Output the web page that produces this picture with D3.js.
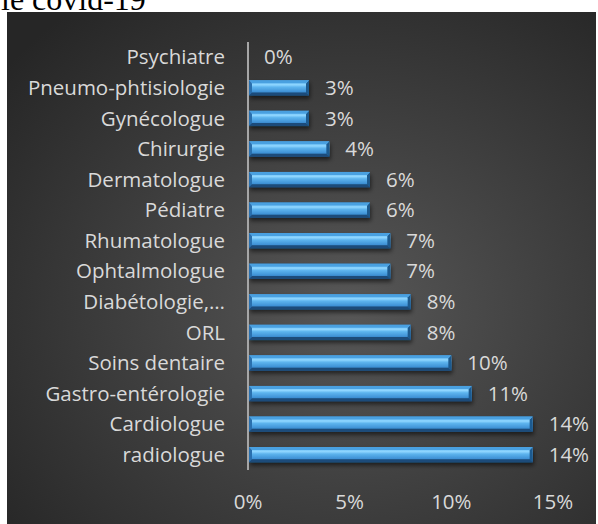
<!DOCTYPE html>
<html>
<head>
<meta charset="utf-8">
<script src="https://cdn.jsdelivr.net/npm/d3@7"></script>
<style>
  html, body { margin: 0; padding: 0; background: #fff; }
  svg { display: block; }
  .cat, .val, .tick-label { font-family: "Open Sans", Lato, sans-serif; font-size: 20.5px; fill: #d9d9d9; }
</style>
</head>
<body>
<div id="chart"></div>
<script>
// Data (top to bottom as shown)
const categories = [
    'Psychiatre', 'Pneumo-phtisiologie', 'Gynécologue', 'Chirurgie', 'Dermatologue',
    'Pédiatre', 'Rhumatologue', 'Ophtalmologue', 'Diabétologie,…', 'ORL',
    'Soins dentaire', 'Gastro-entérologie', 'Cardiologue', 'radiologue'
];
const values = [0, 3, 3, 4, 6, 6, 7, 7, 8, 8, 10, 11, 14, 14];
const tickValues = [0, 5, 10, 15];

const WIDTH = 598;
const HEIGHT = 524;

const svg = d3.select('#chart')
    .append('svg')
    .attr('width', WIDTH)
    .attr('height', HEIGHT);

const defs = svg.append('defs');

// Dark radial background
const bg = defs.append('radialGradient')
    .attr('id', 'bg')
    .attr('cx', '58%').attr('cy', '58%').attr('r', '75%');
bg.append('stop').attr('offset', '0%').attr('stop-color', '#575757');
bg.append('stop').attr('offset', '100%').attr('stop-color', '#262626');

// Bar bevel gradient
const barGrad = defs.append('linearGradient')
    .attr('id', 'bar')
    .attr('x1', 0).attr('y1', 0).attr('x2', 0).attr('y2', 1);
[['0%', '#3c8fd4'], ['12%', '#6fc2f7'], ['30%', '#8fd6ff'], ['45%', '#5db4ee'],
 ['75%', '#3f92d6'], ['88%', '#2f76b5'], ['100%', '#1d4f7e']].forEach(([o, c]) => {
    barGrad.append('stop').attr('offset', o).attr('stop-color', c);
});

const shadow = defs.append('filter').attr('id', 'shadow')
    .attr('x', '-5%').attr('y', '-30%').attr('width', '115%').attr('height', '190%');
shadow.append('feDropShadow')
    .attr('dx', 1).attr('dy', 3).attr('stdDeviation', 2)
    .attr('flood-color', '#000').attr('flood-opacity', 0.55);

// Title fragment, cut at the top like the source
svg.append('text')
    .attr('x', 1)
    .attr('y', 10)
    .attr('font-family', '"Liberation Serif", "Times New Roman", serif')
    .attr('font-size', 32)
    .attr('fill', '#000')
    .text('le covid-19');

// Chart area
svg.append('rect')
    .attr('x', 7).attr('y', 12)
    .attr('width', 589).attr('height', HEIGHT - 12)
    .attr('fill', 'url(#bg)');

// Scales
const x = d3.scaleLinear().domain([0, 15]).range([248, 553]);
const y = d3.scaleBand().domain(categories).range([42, 470])
    .paddingInner(0.5).paddingOuter(0.25);

// Bars
const bars = svg.append('g').selectAll('g.bar')
    .data(categories.map((c, i) => ({ c, v: values[i] })))
    .join('g')
    .attr('class', 'bar')
    .attr('filter', 'url(#shadow)');

bars.filter(d => d.v > 0).each(function (d) {
    const g = d3.select(this);
    const x0 = x(0) + 1;
    const x1 = x(d.v);
    const y0 = y(d.c);
    const h = y.bandwidth();
    const b = 3; // bevel size

    g.append('rect')
        .attr('x', x0).attr('y', y0)
        .attr('width', x1 - x0).attr('height', h)
        .attr('fill', 'url(#bar)');
    // right bevel face
    g.append('polygon')
        .attr('points', `${x1 - b},${y0 + b} ${x1},${y0} ${x1},${y0 + h} ${x1 - b},${y0 + h - b}`)
        .attr('fill', '#1f5a8f');
    // top bevel highlight
    g.append('polygon')
        .attr('points', `${x0},${y0} ${x1},${y0} ${x1 - b},${y0 + b} ${x0 + b},${y0 + b}`)
        .attr('fill', '#4aa0e0');
    // left bevel
    g.append('polygon')
        .attr('points', `${x0},${y0} ${x0 + b},${y0 + b} ${x0 + b},${y0 + h - b} ${x0},${y0 + h}`)
        .attr('fill', '#2c6fae');
    // bottom bevel
    g.append('polygon')
        .attr('points', `${x0},${y0 + h} ${x0 + b},${y0 + h - b} ${x1 - b},${y0 + h - b} ${x1},${y0 + h}`)
        .attr('fill', '#1b4c7a');
});

// Vertical axis line
svg.append('line')
    .attr('x1', x(0)).attr('x2', x(0))
    .attr('y1', 42).attr('y2', 470)
    .attr('stroke', '#a6a6a6')
    .attr('stroke-width', 2);

// Category labels
svg.append('g').selectAll('text')
    .data(categories)
    .join('text')
    .attr('class', 'cat')
    .attr('x', 225)
    .attr('y', d => y(d) + y.bandwidth() / 2)
    .attr('dy', '0.35em')
    .attr('text-anchor', 'end')
    .text(d => d);

// Value labels
svg.append('g').selectAll('text')
    .data(categories.map((c, i) => ({ c, v: values[i] })))
    .join('text')
    .attr('class', 'val')
    .attr('x', d => x(d.v) + 16)
    .attr('y', d => y(d.c) + y.bandwidth() / 2)
    .attr('dy', '0.35em')
    .text(d => d.v + '%');

// X tick labels
svg.append('g').selectAll('text')
    .data(tickValues)
    .join('text')
    .attr('class', 'tick-label')
    .attr('x', d => x(d))
    .attr('y', 502)
    .attr('dy', '0.35em')
    .attr('text-anchor', 'middle')
    .text(d => d + '%');
</script>
</body>
</html>
